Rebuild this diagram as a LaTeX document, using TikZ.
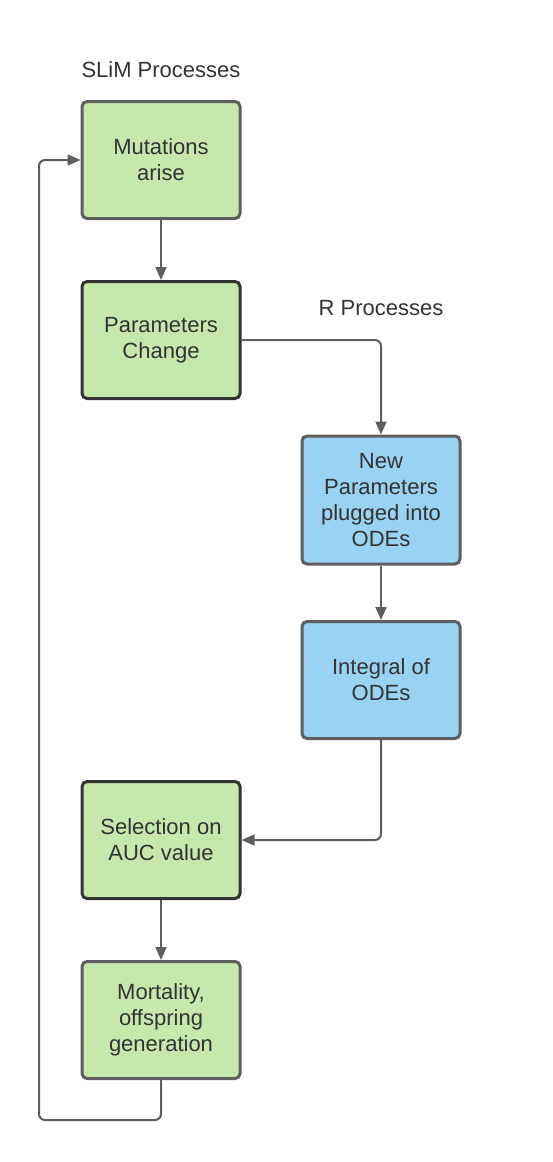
\documentclass[tikz,border=0pt]{standalone}
\usepackage{fontspec}
\setmainfont{Liberation Sans}
\usepackage{tikz}
\usetikzlibrary{arrows.meta, positioning}
\usepackage{xcolor}
\definecolor{slimgreen}{HTML}{C7E8AC}
\definecolor{rblue}{HTML}{99D2F2}
\definecolor{edgegray}{HTML}{5E5E5E}
\definecolor{darkedge}{HTML}{333333}
\definecolor{txt}{HTML}{333333}

\begin{document}
\begin{tikzpicture}[x=1pt, y=-1pt,
  every node/.style={align=center, text=txt, font=\fontsize{22}{26}\selectfont},
  procbox/.style={draw=edgegray, line width=3pt, rounded corners=5pt, minimum width=158pt, minimum height=117pt, inner sep=0pt},
  link/.style={draw=edgegray, line width=2pt, rounded corners=6pt, -{Triangle[length=13pt, width=11pt]}}]
\useasboundingbox (0,0) rectangle (553,1162);

% SLiM side
\node (Mut) at (161,160) [procbox, fill=slimgreen] {Mutations\\arise};
\node (Par) [below=60pt of Mut, procbox, fill=slimgreen, draw=darkedge] {Parameters\\Change};
\node (SLiM) [above=19pt of Mut] {SLiM Processes};

% R side
\node (New) at (381,500) [procbox, fill=rblue, minimum height=128pt] {New\\Parameters\\plugged into\\ODEs};
\node (Int) at (381,680) [procbox, fill=rblue] {Integral of\\ODEs};
\node (RProc) at (381,308) {R Processes};

% back to SLiM
\node (Sel) at (161,840) [procbox, fill=slimgreen, draw=darkedge] {Selection on\\AUC value};
\node (Mort) [below=60pt of Sel, procbox, fill=slimgreen] {Mortality,\\offspring\\generation};
\coordinate (LoopA) at (161,1120);
\coordinate (LoopB) at (39,1120);
\coordinate (LoopC) at (39,160);

% Arrows
\draw[link] (Mut) -- (Par);
\draw[link] (Par.east) -| (New.north);
\draw[link] (New) -- (Int);
\draw[link] (Int.south) |- (Sel.east);
\draw[link] (Sel) -- (Mort);
\draw[link] (Mort.south) -- (LoopA) -- (LoopB) -- (LoopC) -- (Mut.west);
\end{tikzpicture}
\end{document}
